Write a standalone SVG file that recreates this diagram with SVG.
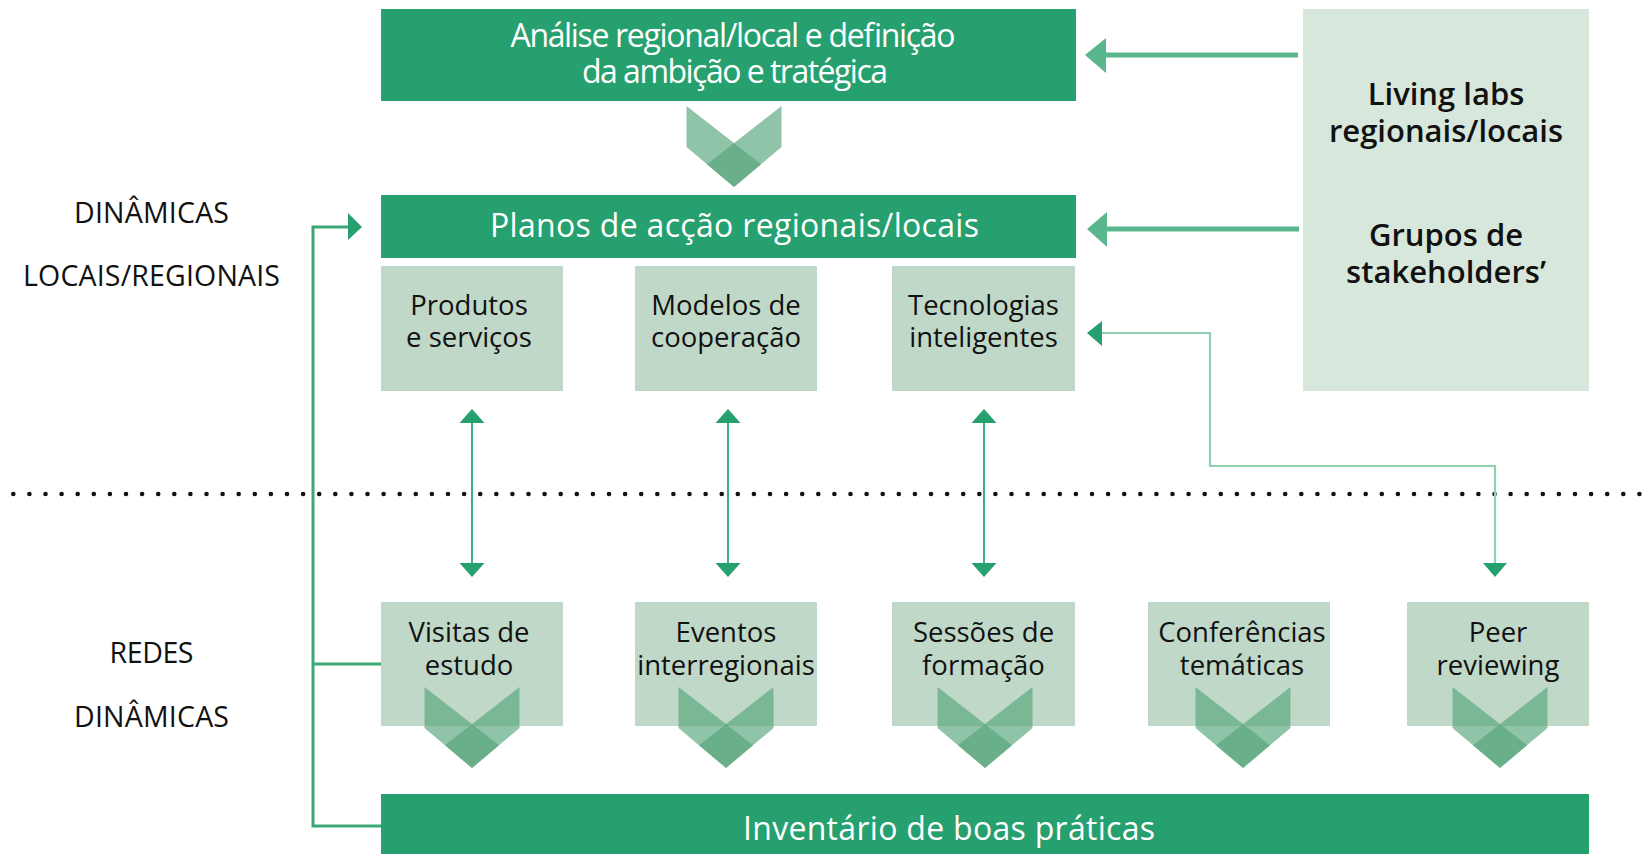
<svg xmlns="http://www.w3.org/2000/svg" width="1642" height="854" viewBox="0 0 1642 854">
<defs>
<style>
text{font-family:"Open Sans","Noto Sans","DejaVu Sans",sans-serif;text-anchor:middle}
.dark{fill:#26a06e}
.light{fill:#c0d8c8}
.pale{fill:#d7e7dc}
.wt{fill:#ffffff;font-size:32px}
.bt{fill:#111111;font-size:27.5px}
.lab{fill:#111111;font-size:28.5px}
.bold{fill:#111111;font-size:31px;font-weight:600}
.stripe{fill:#55a67b;fill-opacity:0.66}
.thick{stroke:#5ab68c;stroke-width:5;fill:none}
.thin{stroke:#3fae7c;stroke-width:2;fill:none}
.pale-line{stroke:#8fd0b0;stroke-width:2.2;fill:none}
.brk{stroke:#3aa776;stroke-width:3;fill:none}
.head{fill:#26a06e}
.head2{fill:#5ab68c}
</style>
<g id="chev">
<polygon class="stripe" points="0,0 74.6,58.2 47.5,81 0,41"/>
<polygon class="stripe" points="95,0 20.4,58.2 47.5,81 95,41"/>
</g>
</defs>
<rect width="1642" height="854" fill="#ffffff"/>

<g id="labels">
<text class="lab" x="151.5" y="222.5" textLength="155">DINÂMICAS</text>
<text class="lab" x="151.5" y="286" textLength="257">LOCAIS/REGIONAIS</text>
<text class="lab" x="151.5" y="662.5" textLength="84">REDES</text>
<text class="lab" x="151.5" y="726.5" textLength="155">DINÂMICAS</text>
</g>

<g id="separator">
<line x1="13.3" y1="494" x2="1642" y2="494" stroke="#111111" stroke-width="4.6" stroke-linecap="round" stroke-dasharray="0 16.1"/>
</g>

<g id="analise">
<rect class="dark" x="381" y="9" width="695" height="92"/>
<text class="wt" x="733" y="46.5" font-size="31" textLength="445">Análise regional/local e definição</text>
<text class="wt" x="735" y="82.5" font-size="31" textLength="306">da ambição e tratégica</text>
</g>

<g id="planos">
<rect class="dark" x="381" y="195" width="695" height="63"/>
<text class="wt" x="734.5" y="236.5" textLength="489">Planos de acção regionais/locais</text>
</g>

<g id="produtos">
<rect class="light" x="381" y="266" width="182" height="125"/>
<text class="bt" x="469" y="315">Produtos</text>
<text class="bt" x="469" y="347">e serviços</text>
</g>
<g id="modelos">
<rect class="light" x="635" y="266" width="182" height="125"/>
<text class="bt" x="726" y="315">Modelos de</text>
<text class="bt" x="726" y="347">cooperação</text>
</g>
<g id="tecnologias">
<rect class="light" x="892" y="266" width="183" height="125"/>
<text class="bt" x="983.5" y="315">Tecnologias</text>
<text class="bt" x="983.5" y="347">inteligentes</text>
</g>

<g id="livinglabs">
<rect class="pale" x="1303" y="9" width="286" height="382"/>
<text class="bold" x="1446" y="105">Living labs</text>
<text class="bold" x="1446" y="142">regionais/locais</text>
<text class="bold" x="1446" y="246">Grupos de</text>
<text class="bold" x="1446" y="282.5">stakeholders’</text>
</g>

<g id="visitas">
<rect class="light" x="381" y="602" width="182" height="124"/>
<text class="bt" x="469" y="642">Visitas de</text>
<text class="bt" x="469" y="675">estudo</text>
</g>
<g id="eventos">
<rect class="light" x="635" y="602" width="182" height="124"/>
<text class="bt" x="726" y="642">Eventos</text>
<text class="bt" x="726" y="675">interregionais</text>
</g>
<g id="sessoes">
<rect class="light" x="892" y="602" width="183" height="124"/>
<text class="bt" x="983.5" y="642">Sessões de</text>
<text class="bt" x="983.5" y="675">formação</text>
</g>
<g id="conferencias">
<rect class="light" x="1148" y="602" width="182" height="124"/>
<text class="bt" x="1242" y="642">Conferências</text>
<text class="bt" x="1242" y="675">temáticas</text>
</g>
<g id="peer">
<rect class="light" x="1407" y="602" width="182" height="124"/>
<text class="bt" x="1498" y="642">Peer</text>
<text class="bt" x="1498" y="675">reviewing</text>
</g>

<g id="inventario">
<rect class="dark" x="381" y="794" width="1208" height="60"/>
<text class="wt" x="949" y="840" textLength="412">Inventário de boas práticas</text>
</g>

<g id="chevrons">
<use href="#chev" x="686.5" y="106"/>
<use href="#chev" x="424.5" y="687"/>
<use href="#chev" x="678.5" y="687"/>
<use href="#chev" x="937.5" y="687"/>
<use href="#chev" x="1195.5" y="687"/>
<use href="#chev" x="1452.5" y="687"/>
</g>

<g id="connectors">
<line class="thick" x1="1298" y1="55" x2="1104" y2="55"/>
<polygon class="head2" points="1085,55 1106,38 1106,73"/>
<line class="thick" x1="1299" y1="229" x2="1105" y2="229"/>
<polygon class="head2" points="1087,229 1107,212 1107,247"/>
<polyline class="pale-line" points="1101,333 1210,333 1210,466 1495,466 1495,564"/>
<polygon class="head" points="1087,333 1102,321 1102,346"/>
<polygon class="head" points="1495,577 1483,563 1507,563"/>
<line class="thin" x1="472" y1="422" x2="472" y2="564"/>
<polygon class="head" points="472,409 459.5,423 484.5,423"/>
<polygon class="head" points="472,577 459.5,563 484.5,563"/>
<line class="thin" x1="728" y1="422" x2="728" y2="564"/>
<polygon class="head" points="728,409 715.5,423 740.5,423"/>
<polygon class="head" points="728,577 715.5,563 740.5,563"/>
<line class="thin" x1="984" y1="422" x2="984" y2="564" stroke="#7fc9a5"/>
<polygon class="head" points="984,409 971.5,423 996.5,423"/>
<polygon class="head" points="984,577 971.5,563 996.5,563"/>
<polyline class="brk" points="349,227 313,227 313,826 381,826"/>
<line class="brk" x1="313" y1="664" x2="381" y2="664"/>
<polygon class="head" points="362,227 348,213 348,240"/>
</g>
</svg>
